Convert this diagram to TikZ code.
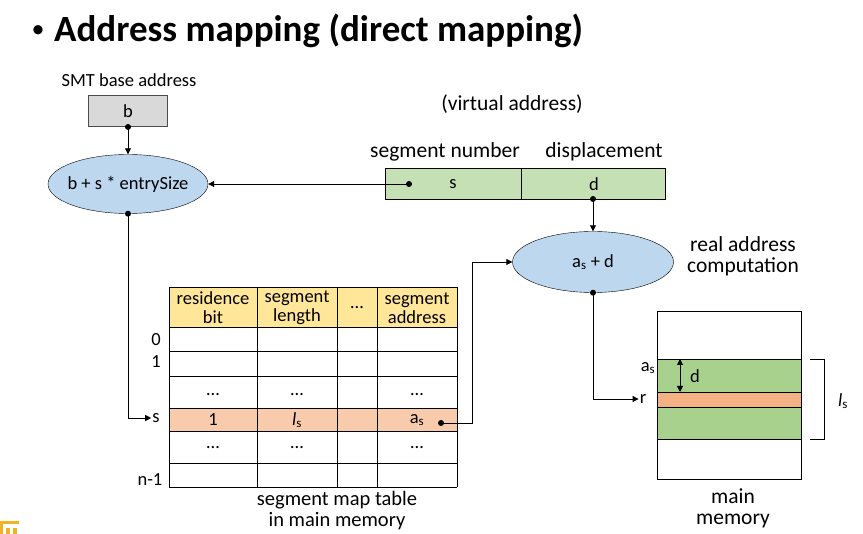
\documentclass[tikz,border=0pt]{standalone}
\usepackage{fontspec}
\setmainfont{Carlito}
\usetikzlibrary{shapes.geometric, arrows.meta, positioning}
\definecolor{basegray}{HTML}{D9D9D9}
\definecolor{calcblue}{HTML}{BDD7EE}
\definecolor{vagreen}{HTML}{C5E0B4}
\definecolor{headyellow}{HTML}{FFE699}
\definecolor{rowpeach}{HTML}{F8CBAD}
\definecolor{memgreen}{HTML}{A9D18E}
\definecolor{memorange}{HTML}{F4B183}
\definecolor{logoorange}{HTML}{F0B323}
\tikzstyle{calc} = [ellipse, draw=black, fill=calcblue, minimum width=160pt, minimum height=59pt, inner sep=0pt]
\tikzstyle{field} = [rectangle, draw=black, line width=0.9pt, minimum height=31pt, inner sep=0pt]
\tikzstyle{label} = [inner sep=1pt, align=center]
\tikzstyle{biglabel} = [label, font=\fontsize{21.5}{21}\selectfont]
\tikzstyle{arrow} = [line width=0.9pt, -{Triangle[length=6pt,width=6pt]}]
\tikzstyle{dot} = [circle, fill=black, inner sep=0pt, minimum size=6pt]

\begin{document}
\begin{tikzpicture}[x=1pt, y=-1pt, font=\fontsize{18.5}{19}\selectfont]
			\useasboundingbox (0,0) rectangle (863,534);
			\clip (0,0) rectangle (863,534);
			% Title
			\node (bullet) [label, font=\fontsize{26}{30}\selectfont] at (38,32) {•};
			\node (title) [label, anchor=west, font=\fontsize{37}{40}\selectfont\bfseries] at (53,31) {Address mapping (direct mapping)};
			
			% Base address and SMT entry computation
			\node (smtlabel) [label] at (129,80) {SMT base address};
			\node (base) [field, draw=black!70, fill=basegray, minimum width=79pt] at (128,111) {b};
			\node (entry) [calc, inner xsep=-14pt] at (128,184) {b + s * entrySize};
			
			% Virtual address
			\node (valabel) [biglabel] at (512,104) {(virtual address)};
			\node (segno) [field, fill=vagreen, minimum width=136pt] at (453,184) {s};
			\node (disp) [field, fill=vagreen, minimum width=144pt, right=0pt of segno] {d};
			\node (segnolabel) [biglabel] at (445,152) {segment number};
			\node (displabel) [biglabel] at (604,152) {displacement};
			\coordinate (sdot) at (409,184);
			\coordinate (ddot) at (593,199);
			
			% Real address computation
			\node (real) [calc, minimum width=161pt, minimum height=61pt] at (593,262) {a\textsubscript{s} + d};
			\node (reallabel) [biglabel] at (743,256) {real address\\computation};
			
			% Segment map table
			\fill[headyellow] (169,287) rectangle (457,327);
			\fill[rowpeach] (169,408) rectangle (457,431);
			\foreach \y in {287,327,351,376,408,431,463,487}
				\draw[line width=0.9pt] (169,\y) -- (457,\y);
			\foreach \x in {169,257,337,377,457}
				\draw[line width=0.9pt] (\x,287) -- (\x,487);
			\node (hres) [label] at (213,308) {residence\\bit};
			\node (hlen) [label] at (297,308) {segment\\length};
			\node (hdots) [label] at (357,308) {…};
			\node (hadr) [label] at (417,308) {segment\\address};
			\node (row0) [label] at (156,340) {0};
			\node (row1) [label] at (156,362) {1};
			\node (rows) [label] at (156,418) {s};
			\node (rown) [label] at (150,480) {n-1};
			\foreach \x/\n in {213/a, 297/b, 417/c} {
				\node (dotsup\n) [label] at (\x,395) {…};
				\node (dotsdn\n) [label] at (\x,448) {…};
			}
			\node (res) [label] at (213,420) {1};
			\node (len) [label] at (297,420) {\textit{l}\textsubscript{s}};
			\node (adr) [label] at (417,420) {a\textsubscript{s}};
			\coordinate (adot) at (441,423);
			\coordinate (abend) at (472,423);
			\node (smtcaption) [label, font=\fontsize{20.5}{21}\selectfont] at (337,511) {segment map table\\in main memory};
			
			% Main memory
			\node (mem) [rectangle, draw=black, line width=0.9pt, minimum width=144pt, minimum height=168pt, inner sep=0pt] at (729,395) {};
			\draw[line width=0.9pt, fill=memgreen] (657,359) rectangle (801,439);
			\draw[line width=0.9pt, fill=memorange] (657,392) rectangle (801,407);
			\node (memas) [label] at (648,368) {a\textsubscript{s}};
			\node (memr) [label] at (643,399) {r};
			\node (memd) [label] at (695,376) {d};
			\draw[line width=0.9pt, {Triangle[length=6pt,width=6pt]}-{Triangle[length=6pt,width=6pt]}] (680,359) -- (680,392);
			\draw[line width=0.7pt] (810,359) -- (824,359) -- (824,439) -- (810,439);
			\node (memls) [label] at (843,401) {\textit{l}\textsubscript{s}};
			\node (memcaption) [biglabel] at (733,508) {main\\memory};
			
			% Arrows
			\draw [arrow] (base.south) -- (entry.north);
			\draw [arrow] (sdot) -- (entry.east);
			\draw [arrow] (entry.south) |- (rows.west);
			\draw [arrow] (ddot) -- (real.north);
			\draw [arrow] (adot) -- (abend) |- (real.west);
			\draw [arrow] (real.south) |- (memr.west);
			\foreach \p in {base.south, entry.south, sdot, ddot, adot, real.south}
				\node [dot] at (\p) {};
			
			% Logo fragment
			\fill[logoorange] (0,521) rectangle (19,524);
			\fill[logoorange] (0,521) rectangle (3,534);
			\fill[logoorange] (6,528) rectangle (10,534);
			\fill[logoorange] (13,528) rectangle (17,534);
		\end{tikzpicture}
\end{document}
